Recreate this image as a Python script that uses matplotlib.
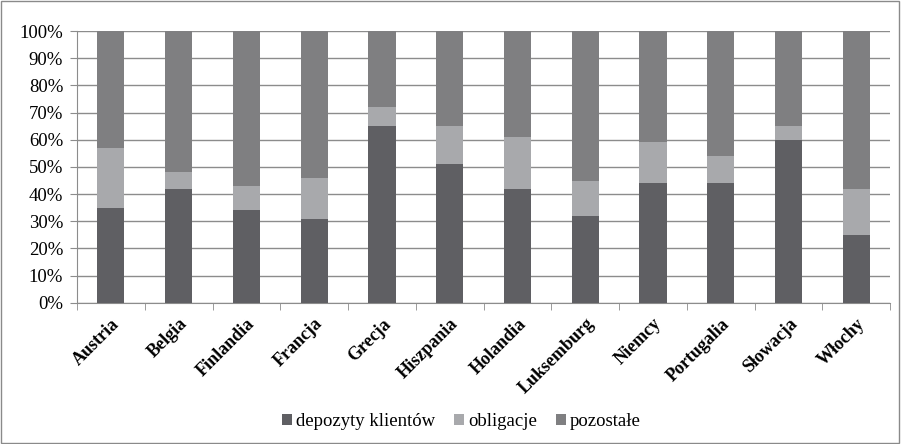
import numpy as np
import matplotlib.pyplot as plt
from matplotlib.patches import Rectangle
from matplotlib.ticker import FixedLocator, PercentFormatter

plt.rcParams['font.family'] = ['Liberation Serif', 'DejaVu Serif']

kraje = ['Austria', 'Belgia', 'Finlandia', 'Francja', 'Grecja', 'Hiszpania',
         'Holandia', 'Luksemburg', 'Niemcy', 'Portugalia', 'Słowacja', 'Włochy']
depozyty = [35, 42, 34, 31, 65, 51, 42, 32, 44, 44, 60, 25]
obligacje = [22, 6, 9, 15, 7, 14, 19, 13, 15, 10, 5, 17]
pozostale = [100 - d - o for d, o in zip(depozyty, obligacje)]

kolory = ['#5f5f63', '#a8a9ac', '#7f7f81']

fig = plt.figure(figsize=(9.01, 4.44), dpi=100)
fig.patches.append(Rectangle((0.001, 0.002), 0.997, 0.995, transform=fig.transFigure,
                             fill=False, edgecolor='#8a8a8a', linewidth=1.0))
ax = fig.add_axes([0.0855, 0.318, 0.9025, 0.612])

x = np.arange(len(kraje))
szer = 0.4
ax.bar(x, depozyty, szer, color=kolory[0], label='depozyty klientów', zorder=3)
ax.bar(x, obligacje, szer, bottom=depozyty, color=kolory[1], label='obligacje', zorder=3)
dol = np.array(depozyty) + np.array(obligacje)
ax.bar(x, pozostale, szer, bottom=dol, color=kolory[2], label='pozostałe', zorder=3)

ax.set_xlim(-0.5, len(kraje) - 0.5)
ax.set_ylim(0, 100)
ax.set_yticks(range(0, 101, 10))
ax.yaxis.set_major_formatter(PercentFormatter(decimals=0))
ax.yaxis.grid(True, color='#8c8c8c', linewidth=1.0, zorder=0)

ax.set_xticks(x)
ax.set_xticklabels(kraje, rotation=45, ha='right', rotation_mode='anchor',
                   fontweight='bold', fontsize=13)
ax.tick_params(axis='x', which='major', length=0, pad=9)
ax.xaxis.set_minor_locator(FixedLocator(np.arange(-0.5, len(kraje), 1)))
ax.tick_params(axis='x', which='minor', length=5, color='#8c8c8c', direction='out')
ax.tick_params(axis='y', length=5, color='#8c8c8c', labelsize=13.5, pad=5)

for s in ['top', 'right']:
    ax.spines[s].set_visible(False)
for s in ['left', 'bottom']:
    ax.spines[s].set_color('#8c8c8c')

fig.legend(loc='center', bbox_to_anchor=(0.512, 0.05), ncol=3, frameon=False,
           handlelength=0.55, handleheight=0.55, handletextpad=0.2, columnspacing=1.0,
           fontsize=13.5)

fig.savefig('out.png', dpi=100)
